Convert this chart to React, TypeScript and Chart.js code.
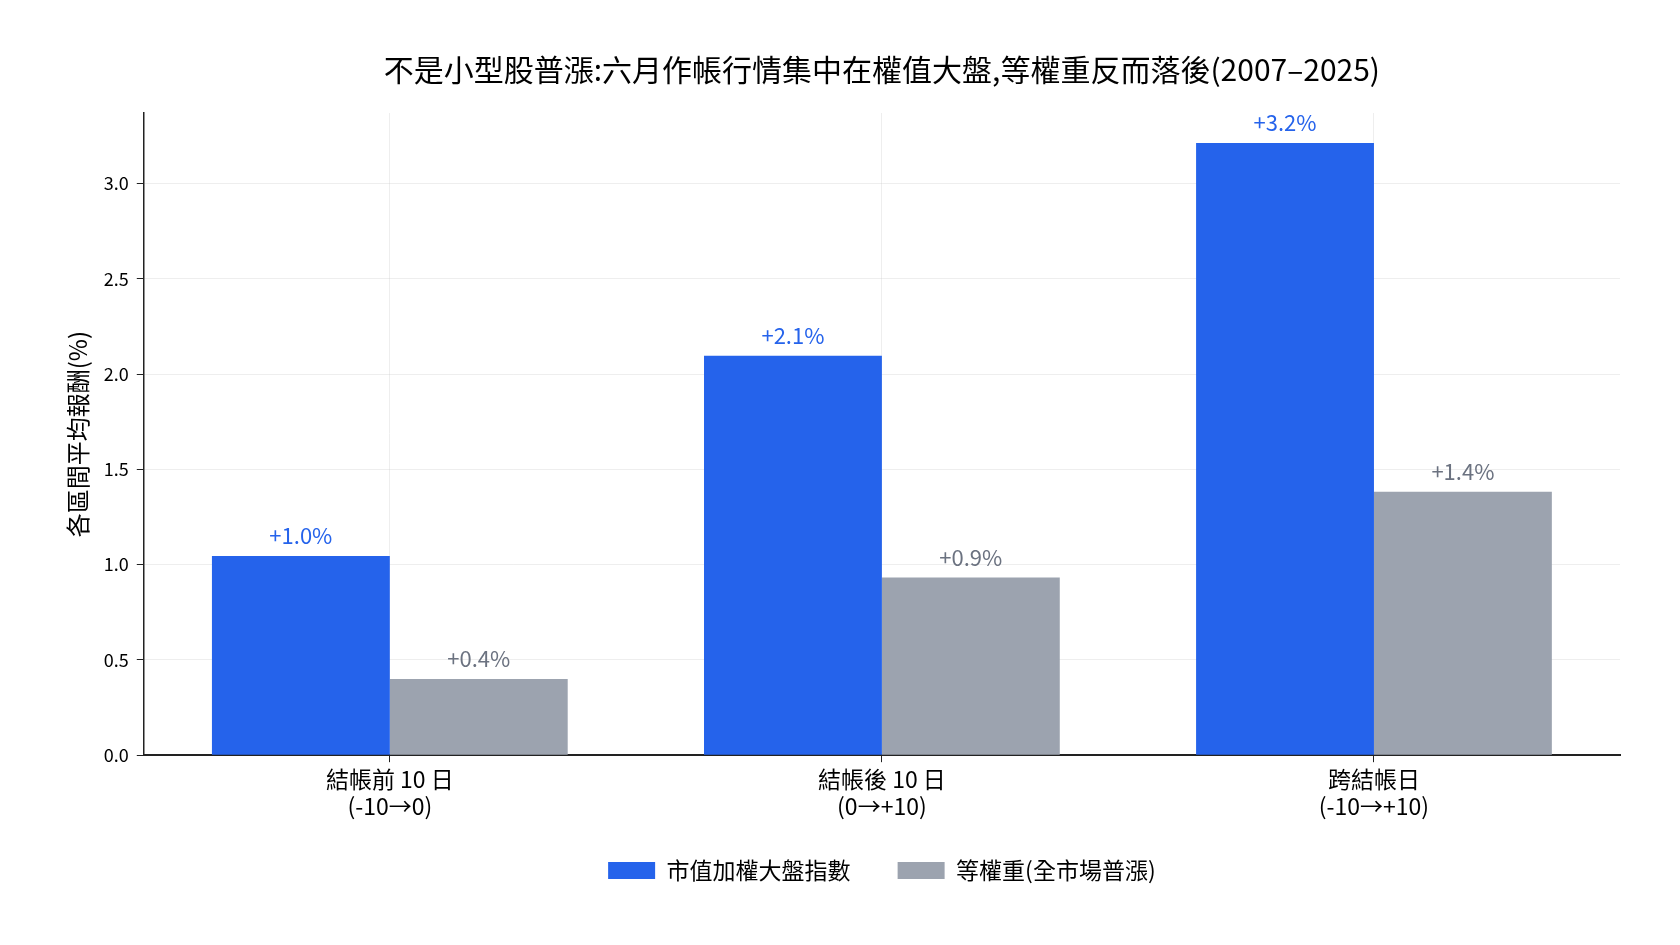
import { useEffect, useRef } from 'react'
import { Chart, registerables } from 'chart.js'

Chart.register(...registerables)

const FONT = "'Noto Sans CJK TC', 'Noto Sans', sans-serif"

const categories = [
    ['結帳前 10 日', '(-10→0)'],
    ['結帳後 10 日', '(0→+10)'],
    ['跨結帳日', '(-10→+10)']
]
const capWeighted = [1.045, 2.096, 3.213]
const equalWeighted = [0.4, 0.933, 1.383]
const capLabels = ['+1.0%', '+2.1%', '+3.2%']
const equalLabels = ['+0.4%', '+0.9%', '+1.4%']
const seriesNames = ['市值加權大盤指數', '等權重(全市場普漲)']
const yTicks = [0, 0.5, 1, 1.5, 2, 2.5, 3]

const BLUE = '#2563eb'
const GRAY = '#9ca3af'

// draws the "+x.x%" text above each bar
const barLabels = {
    id: 'barLabels',
    afterDatasetsDraw(chart: Chart) {
        const ctx = chart.ctx
        const texts = [capLabels, equalLabels]
        const colors = [BLUE, '#6b7280']
        ctx.save()
        ctx.font = `22px ${FONT}`
        ctx.textAlign = 'center'
        ctx.textBaseline = 'bottom'
        chart.data.datasets.forEach((_, di) => {
            const meta = chart.getDatasetMeta(di)
            ctx.fillStyle = colors[di]
            meta.data.forEach((bar: any, i: number) => {
                ctx.fillText(texts[di][i], bar.x, bar.y - 9)
            })
        })
        ctx.restore()
    }
}

// nudge the legend up a bit, closer to the category labels
const legendNudge = {
    id: 'legendNudge',
    afterLayout(chart: any) {
        const legend = chart.legend
        if (!legend) return
        legend.top -= 12
        legend.bottom -= 12
    }
}

export default function App() {
    const chartRef = useRef<HTMLCanvasElement>(null)
    const chartInstance = useRef<Chart | null>(null)

    useEffect(() => {
        if (!chartRef.current) return
        if (chartInstance.current) chartInstance.current.destroy()

        const ctx = chartRef.current.getContext('2d')
        if (!ctx) return

        chartInstance.current = new Chart(ctx, {
            type: 'bar',
            data: {
                labels: categories,
                datasets: [
                    {
                        label: seriesNames[0],
                        data: capWeighted,
                        backgroundColor: BLUE,
                        categoryPercentage: 0.723,
                        barPercentage: 1
                    },
                    {
                        label: seriesNames[1],
                        data: equalWeighted,
                        backgroundColor: GRAY,
                        categoryPercentage: 0.723,
                        barPercentage: 1
                    }
                ]
            },
            options: {
                responsive: true,
                maintainAspectRatio: false,
                animation: false,
                layout: {
                    padding: { left: 59, right: 60, top: 0, bottom: 41 }
                },
                plugins: {
                    title: {
                        display: true,
                        text: '不是小型股普漲:六月作帳行情集中在權值大盤,等權重反而落後(2007–2025)',
                        color: '#000',
                        fullSize: false,
                        font: { family: FONT, size: 30, weight: 'normal' },
                        padding: { top: 52, bottom: 25 }
                    },
                    legend: {
                        position: 'bottom',
                        fullSize: false,
                        labels: {
                            color: '#000',
                            boxWidth: 47,
                            boxHeight: 17,
                            padding: 47,
                            font: { family: FONT, size: 23 }
                        }
                    },
                    tooltip: { enabled: false }
                },
                scales: {
                    x: {
                        grid: {
                            offset: false,
                            color: '#eeeeee',
                            tickColor: '#222',
                            tickLength: 7
                        },
                        border: { color: '#222', width: 2 },
                        ticks: {
                            color: '#000',
                            padding: 4,
                            font: { family: FONT, size: 23, lineHeight: 1.17 }
                        }
                    },
                    y: {
                        z: 1,
                        min: 0,
                        max: 3.37,
                        afterBuildTicks: (scale: any) => {
                            scale.ticks = yTicks.map(v => ({ value: v }))
                        },
                        grid: {
                            color: 'rgba(200,200,200,0.3)',
                            tickColor: '#222',
                            tickLength: 7
                        },
                        border: { color: '#222', width: 1.5 },
                        ticks: {
                            color: '#000',
                            padding: 8,
                            font: { family: FONT, size: 18 },
                            callback: (v: any) => Number(v).toFixed(1)
                        },
                        title: {
                            display: true,
                            text: '各區間平均報酬(%)',
                            color: '#000',
                            font: { family: FONT, size: 24 }
                        }
                    }
                }
            },
            plugins: [barLabels, legendNudge]
        })

        return () => {
            if (chartInstance.current) {
                chartInstance.current.destroy()
                chartInstance.current = null
            }
        }
    }, [])

    return (
        <div style={{ position: 'fixed', left: 0, top: 0, width: 1680, height: 945, background: '#fff' }}>
            <canvas ref={chartRef}></canvas>
        </div>
    )
}
